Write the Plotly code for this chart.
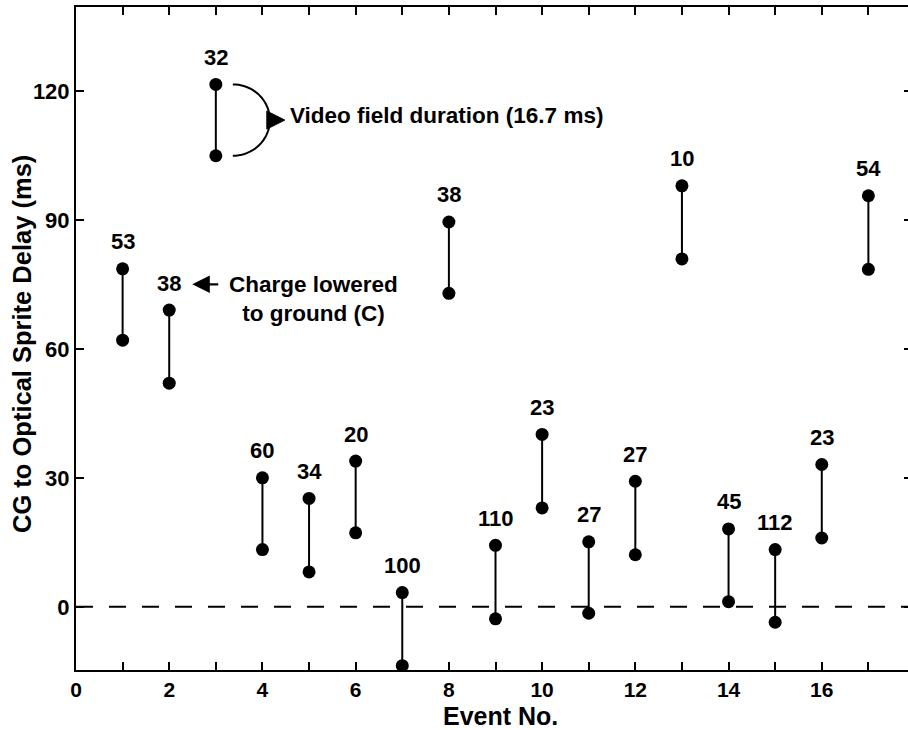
import numpy as np
import plotly.graph_objects as go

# ---- data ----
events = [1, 2, 3, 4, 5, 6, 7, 8, 9, 10, 11, 12, 13, 14, 15, 16, 17]
delay_top = [78.6, 69.0, 121.5, 30.0, 25.2, 33.9, 3.3, 89.5, 14.3, 40.1, 15.1, 29.2, 97.9, 18.1, 13.3, 33.1, 95.6]
delay_bottom = [62.0, 52.0, 104.9, 13.3, 8.1, 17.2, -13.7, 72.9, -2.8, 23.0, -1.5, 12.1, 80.9, 1.2, -3.6, 16.0, 78.5]
labels = ["53", "38", "32", "60", "34", "20", "100", "38", "110", "23", "27", "27", "10", "45", "112", "23", "54"]
x_ticks = list(range(0, 18))
x_ticktext = [str(v) if v % 2 == 0 and v <= 16 else "" for v in x_ticks]
y_ticks = [0, 30, 60, 90, 120]

X_RANGE = [0, 17.85]
Y_RANGE = [-14.7, 139.5]
FONT = "Liberation Sans, Arial, Helvetica, sans-serif"

# pixels per data unit (plot area 832 x 663 px)
ux = 832 / (X_RANGE[1] - X_RANGE[0])
uy = 663 / (Y_RANGE[1] - Y_RANGE[0])

fig = go.Figure()

# vertical segments
seg_x, seg_y = [], []
for e, t, b in zip(events, delay_top, delay_bottom):
    seg_x += [e, e, None]
    seg_y += [t, b, None]
fig.add_trace(go.Scatter(x=seg_x, y=seg_y, mode="lines",
                         line=dict(color="black", width=2),
                         hoverinfo="skip", showlegend=False))
# dots
fig.add_trace(go.Scatter(x=events + events, y=delay_top + delay_bottom, mode="markers",
                         marker=dict(color="black", size=13),
                         showlegend=False))
# invisible trace for right-hand tick axis
fig.add_trace(go.Scatter(x=events, y=delay_top, yaxis="y2", mode="markers",
                         marker=dict(opacity=0), hoverinfo="skip", showlegend=False))

# zero dashed line
fig.add_shape(type="line", xref="paper", x0=0, x1=1, yref="y", y0=0, y1=0,
              line=dict(color="black", width=2, dash="17px,16px"))

# number labels above each event
for e, t, lab in zip(events, delay_top, labels):
    fig.add_annotation(x=e, y=t, text=lab, showarrow=False, yshift=27,
                       yanchor="middle", font=dict(size=22, family=FONT, color="black", weight="bold"))

# video field duration bracket (event 3)
i3 = events.index(3)
cx = 3 + 17 / ux
cy = (delay_top[i3] + delay_bottom[i3]) / 2
ry = (delay_top[i3] - delay_bottom[i3]) / 2
rx = 37 / ux
th = np.linspace(np.pi / 2, -np.pi / 2, 40)
px = cx + rx * np.cos(th)
py = cy + ry * np.sin(th)
path = "M " + " L ".join(f"{a:.4f},{b:.4f}" for a, b in zip(px, py))
fig.add_shape(type="path", path=path, xref="x", yref="y", line=dict(color="black", width=2))
bx = cx + rx - 3 / ux
tri = (f"M {bx:.4f},{cy + 9 / uy:.4f} L {bx + 18 / ux:.4f},{cy:.4f} "
       f"L {bx:.4f},{cy - 9 / uy:.4f} Z")
fig.add_shape(type="path", path=tri, xref="x", yref="y", line=dict(color="black", width=1),
              fillcolor="black")
fig.add_annotation(x=bx + 21 / ux, y=cy + 1.0, text="Video field duration (16.7 ms)",
                   showarrow=False, xanchor="left", yanchor="middle",
                   font=dict(size=22.5, family=FONT, color="black", weight="bold"))

# charge lowered arrow + text (event 2)
i2 = events.index(2)
fig.add_annotation(x=2 + 23 / ux, y=delay_top[i2] + 6.0, ax=26, ay=0, text="",
                   showarrow=True, arrowhead=2, arrowsize=1.6, arrowwidth=2.2,
                   arrowcolor="black", xanchor="left")
fig.add_annotation(x=2 + 144 / ux, y=delay_top[i2] + 2.5, text="Charge lowered<br>to ground (C)",
                   showarrow=False, xanchor="center", yanchor="middle", align="center",
                   font=dict(size=22.5, family=FONT, color="black", weight="bold"))

# axis titles
fig.add_annotation(xref="paper", yref="paper", x=(500 - 76) / 832, y=(670 - 716) / 663,
                   text="Event No.", showarrow=False, xanchor="center", yanchor="middle",
                   font=dict(size=25, family=FONT, color="black", weight="bold"))
fig.add_annotation(xref="paper", yref="paper", x=(22 - 76) / 832, y=(670 - 344) / 663,
                   text="CG to Optical Sprite Delay (ms)", textangle=-90, showarrow=False,
                   xanchor="center", yanchor="middle",
                   font=dict(size=25.5, family=FONT, color="black", weight="bold"))

fig.update_layout(
    width=908, height=730,
    margin=dict(l=76, r=0, t=7, b=60),
    paper_bgcolor="white", plot_bgcolor="white",
    font=dict(family=FONT, color="black", weight="bold"),
    showlegend=False,
    xaxis=dict(range=X_RANGE, tickvals=x_ticks, ticktext=x_ticktext,
               ticks="inside", ticklen=8, tickwidth=2, tickcolor="black",
               showline=True, linewidth=2, linecolor="black", mirror="ticks",
               showgrid=False, zeroline=False,
               tickfont=dict(size=21, family=FONT, color="black", weight="bold")),
    yaxis=dict(range=Y_RANGE, tickvals=y_ticks,
               ticks="inside", ticklen=8, tickwidth=2, tickcolor="black",
               showline=True, linewidth=2, linecolor="black", mirror=False,
               showgrid=False, zeroline=False,
               tickfont=dict(size=22, family=FONT, color="black", weight="bold")),
    yaxis2=dict(range=Y_RANGE, tickvals=y_ticks, overlaying="y", side="right", anchor="x",
                ticks="inside", ticklen=4, tickwidth=2, tickcolor="black",
                showticklabels=False, showline=False, showgrid=False, zeroline=False),
)

fig.write_html("out.html")
